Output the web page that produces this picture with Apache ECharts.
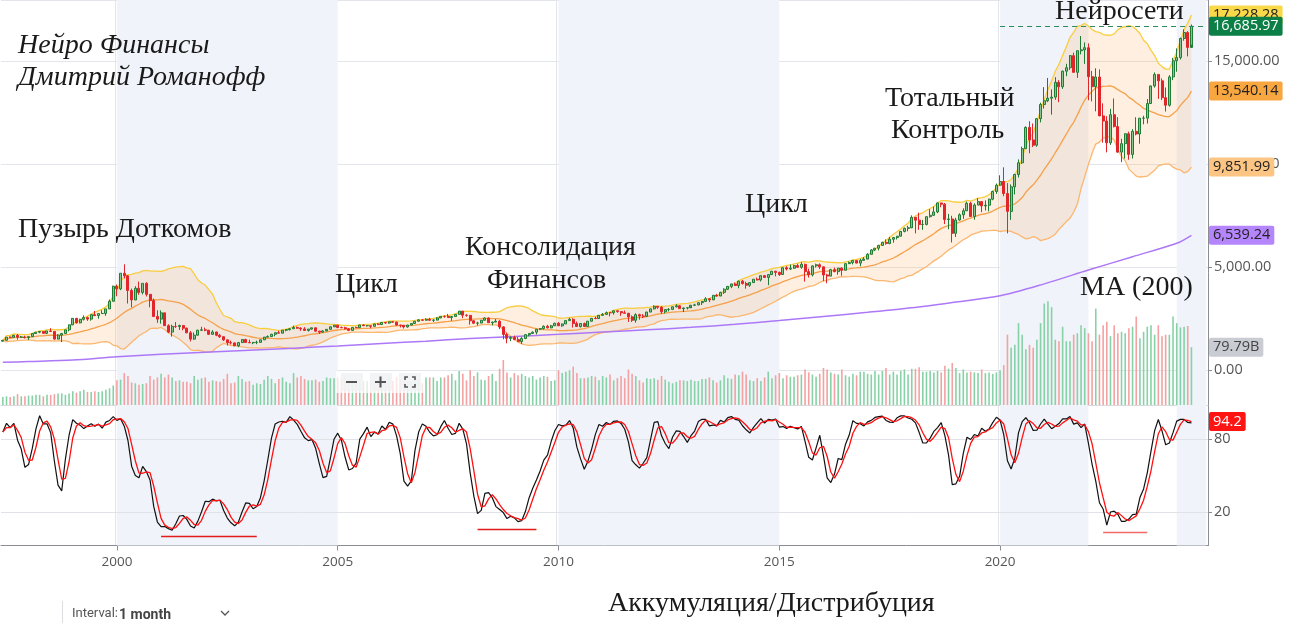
<!DOCTYPE html>
<html>
<head>
<meta charset="utf-8">
<script src="https://cdn.jsdelivr.net/npm/echarts@6/dist/echarts.min.js"></script>
<style>
html,body{margin:0;padding:0;background:#fff;}
#c{width:1289px;height:630px;}
</style>
</head>
<body>
<div id="c"></div>
<script>
// ---------- DATA (Nasdaq Composite, monthly, Jun 1997 – May 2024) ----------
const firstOpen = 1400.32; // close of May 1997
const close = [
1442,1594,1587,1686,1594,1601,1570,
1619,1771,1835,1868,1779,1895,1872,1499,1694,1771,1950,2193,
2506,2288,2461,2543,2471,2686,2638,2739,2746,2966,3336,4069,
3940,4697,4573,3861,3401,3966,3767,4206,3673,3370,2598,2471,
2773,2152,1840,2116,2110,2161,2027,1805,1499,1690,1931,1950,
1934,1731,1845,1688,1616,1463,1328,1315,1172,1330,1479,1336,
1321,1338,1341,1464,1596,1623,1735,1810,1787,1932,1960,2003,
2066,2030,1994,1920,1987,2048,1887,1838,1897,1975,2096,2175,
2062,2052,1999,1922,2068,2057,2185,2152,2152,2120,2233,2205,
2306,2281,2340,2323,2179,2172,2091,2184,2258,2367,2432,2415,
2464,2416,2422,2525,2605,2603,2546,2596,2702,2859,2661,2652,
2390,2271,2279,2413,2523,2293,2326,2368,2092,1721,1536,1577,
1476,1378,1529,1717,1774,1835,1979,2009,2122,2045,2145,2269,
2147,2238,2398,2461,2257,2109,2255,2114,2369,2507,2498,2653,
2700,2782,2781,2874,2835,2774,2756,2579,2415,2684,2620,2605,
2814,2967,3092,3046,2827,2935,2940,3067,3116,2977,3010,3020,
3142,3160,3268,3329,3456,3403,3626,3590,3771,3920,4060,4177,
4104,4308,4199,4115,4243,4408,4370,4580,4493,4631,4792,4736,
4635,4964,4901,4941,5070,4987,5128,4777,4620,5054,5109,5007,
4614,4558,4870,4775,4948,4843,5162,5213,5312,5189,5324,5383,
5615,5825,5912,6048,6199,6140,6348,6429,6496,6728,6874,6903,
7411,7273,7063,7066,7442,7510,7672,8110,8046,7306,7331,6635,
7282,7533,7729,8095,7453,8006,8175,7963,7999,8292,8665,8973,
9151,8567,7700,8890,9490,10059,10745,11775,11168,10912,12199,12888,
13070,13192,13247,13962,13749,14504,14673,15259,14449,15498,15538,15645,
14240,13751,14221,12335,12081,11029,12391,11816,10576,10988.15,11468.00,10466.48,
11584.55,11455.54,12221.91,12226.58,12935.29,13787.92,14346.02,14034.97,13219.32,12851.24,14226.22,15011.35,
15164.01,16091.92,16379.46,15657.82,16685.97
];
const high = [
1452,1594,1632,1697,1745,1655,1663,
1620,1772,1836,1880,1880,1895,2028,1880,1740,1772,1950,2200,
2506,2527,2488,2652,2590,2686,2864,2741,2905,2967,3421,4090,
4150,4697,5132,4600,3955,4067,4290,4206,4260,3675,3466,2900,
2892,2766,2220,2200,2328,2200,2165,2063,1890,1818,1950,2098,
2059,1924,1930,1858,1752,1634,1465,1427,1335,1362,1494,1521,
1467,1358,1425,1472,1599,1681,1754,1812,1908,1941,1987,2009,
2153,2110,2073,2079,1990,2050,2059,1897,1928,1990,2108,2185,
2191,2107,2100,2024,2080,2105,2194,2220,2168,2160,2245,2278,
2333,2300,2345,2375,2350,2191,2176,2189,2262,2378,2468,2470,
2509,2532,2460,2558,2620,2641,2724,2600,2716,2861,2848,2708,
2662,2420,2341,2431,2552,2550,2344,2473,2417,2118,1809,1632,
1667,1602,1598,1738,1774,1877,1987,2037,2167,2190,2191,2295,
2326,2243,2404,2535,2514,2354,2285,2303,2382,2521,2592,2671,
2766,2840,2797,2887,2888,2835,2888,2767,2648,2752,2732,2713,
2818,2978,3134,3106,3095,2935,3004,3077,3196,3139,3034,3044,
3158,3214,3269,3343,3533,3482,3627,3694,3795,3968,4070,4177,
4247,4343,4371,4285,4247,4409,4485,4580,4610,4641,4810,4814,
4778,4969,5042,5120,5112,5164,5232,5163,4918,5085,5164,5176,
4993,4664,4911,4969,4951,4980,5176,5271,5342,5343,5398,5487,
5669,5866,5928,6075,6221,6342,6460,6447,6497,6749,6914,7003,
7506,7387,7637,7285,7445,7806,7933,8133,8110,8107,7578,7487,
7390,7603,7850,8176,8165,8091,8340,8176,8234,8313,8706,9052,
9451,9838,9070,9007,9523,10221,10839,11829,12074,11965,12229,12973,
13729,14175,13620,14211,14072,14535,14863,15288,15403,15509,16212,15901,
15853,14520,14646,14588,12943,12320,12681,13181,12270,11224,11480,11571,
11691,12270,12230,12342,13154,13803,14446,14338,14152,13714,14310,15150,
15611,16134,16539,16449,16771
];
const low = [
1382,1440,1557,1585,1470,1551,1530,
1465,1619,1765,1786,1766,1741,1850,1470,1491,1357,1770,1874,
2180,2253,2262,2400,2387,2390,2630,2490,2725,2630,2965,3330,
3580,3875,4440,3227,3043,3390,3650,3670,3570,3040,2596,2288,
2251,2143,1794,1619,2042,1946,1927,1791,1387,1465,1677,1891,
1879,1697,1722,1642,1556,1413,1192,1241,1166,1108,1319,1330,
1311,1252,1253,1345,1455,1590,1611,1637,1784,1790,1874,1918,
1995,2004,1897,1914,1865,1955,1857,1750,1825,1881,1970,2090,
2030,2030,1969,1890,1923,2036,2056,2127,2104,2025,2115,2205,
2190,2242,2254,2300,2152,2065,2012,2054,2167,2239,2355,2396,
2395,2385,2331,2412,2522,2534,2539,2386,2577,2697,2516,2583,
2202,2244,2155,2274,2410,2287,2167,2318,1983,1493,1295,1400,
1445,1372,1265,1498,1637,1775,1727,1937,1963,2024,2024,2145,
2134,2100,2238,2390,2061,2106,2061,2098,2110,2353,2467,2501,
2650,2689,2603,2689,2779,2629,2746,2332,2335,2298,2441,2518,
2626,2806,2941,2969,2726,2747,2845,2941,3041,2964,2810,2938,
3086,3127,3143,3154,3310,3294,3406,3557,3594,3691,3889,3972,
4087,3968,4147,3946,4035,4232,4352,4298,4483,4117,4617,4547,
4563,4616,4831,4849,4911,4963,4910,4292,4487,4542,4979,4899,
4313,4210,4552,4747,4624,4575,4835,5142,5125,5178,5034,5334,
5397,5604,5769,5805,6034,6081,6104,6178,6336,6502,6681,6732,
6924,6631,6805,6806,7019,7397,7491,7614,7900,7084,6830,6190,
6457,7246,7338,7717,7418,7292,8005,7662,7743,7700,8240,8551,
8943,8436,6631,7287,8521,9345,10005,10733,10520,10822,10836,12020,
12690,13003,12397,13117,13002,13646,14262,14567,14430,14181,15322,14861,
13094,13037,12555,12332,11035,10565,10925,11772,10541,10089,10263,10207,
10265,11390,10982,11925,11963,12961,13707,13161,13101,12544,12785,14070,
14478,15071,15983,15223,15790
];
// monthly volume, billions
const volume = [
11,12,11,12,15,12,12,
13,13,14,14,12,14,14,15,16,16,14,16,
19,17,19,21,18,18,19,18,19,21,23,27,
34,35,44,40,31,30,28,29,30,40,35,38,
43,38,42,38,33,34,32,32,30,40,35,37,
38,32,34,33,32,36,43,30,31,40,36,32,
33,28,30,29,35,40,36,30,36,38,32,30,
44,38,40,36,34,34,35,32,33,38,37,37,
38,36,39,36,37,36,34,33,33,34,33,31,
38,33,39,33,39,36,33,32,33,34,35,30,
38,38,38,33,38,38,41,43,34,47,43,34,
48,40,45,35,34,40,43,33,50,62,45,38,
44,41,43,40,38,40,35,38,40,39,33,34,
48,44,46,48,53,44,37,37,38,40,39,34,
40,38,42,34,37,40,37,49,43,40,34,31,
37,36,37,35,40,35,32,30,32,34,34,33,
35,33,33,36,36,38,34,31,34,41,37,36,
42,41,46,42,34,33,37,33,38,46,37,41,
44,37,41,39,39,41,42,49,45,42,39,43,
51,49,45,43,42,49,41,39,43,41,46,46,
43,42,47,42,47,51,42,46,42,47,49,42,
50,50,52,46,46,47,45,47,45,54,50,58,
51,44,49,45,46,45,44,49,44,45,43,45,
48,55,97,79,83,113,97,77,83,79,90,113,
140,143,135,90,88,108,88,88,97,99,110,106,
99,88,133,97,110,115,95,110,99,101,99,106,
108,122,92,101,108,110,97,110,95,97,97,122,
113,107,108,109,79.79
];
// 200-month moving average
const maMonths = ['1997-06','1998-01','1999-01','2000-01','2001-01','2002-01','2003-01','2004-01','2005-01','2006-01','2007-01','2008-01','2009-01','2010-01','2011-01','2012-01','2013-01','2014-01','2015-01','2016-01','2017-01','2018-01','2019-01','2020-01','2021-01','2022-01','2023-01','2024-01','2024-05'];
const maValues = [375,410,480,640,760,860,960,1060,1170,1290,1400,1530,1630,1730,1840,1950,2070,2220,2400,2600,2800,3020,3300,3600,4180,4850,5500,6150,6539.24];
const priceTicks = [0,5000,10000,15000];
const stochTicks = [20,80];
const shadedRanges = [['2000-01','2005-01'],['2010-01','2015-01'],['2020-01','2022-01'],['2024-01','2024-09']];
const stochLowMarks = [[['2001-01',0],['2003-03',0]],[['2008-03',6.5],['2009-07',6.5]],[['2022-05',4],['2023-05',4]]];

// ---------- categories ----------
const categories = [];
for (let y = 1997, m = 6; categories.length < 328;) {
  categories.push(y + '-' + String(m).padStart(2, '0'));
  m++; if (m > 12) { m = 1; y++; }
}
const n = close.length;
const open = close.map((c, i) => i === 0 ? firstOpen : close[i - 1]);
const up = close.map((c, i) => c >= open[i]);

// ---------- indicators computed from the data ----------
const bbMid = [], bbUp = [], bbLo = [];
for (let i = 0; i < n; i++) {
  const s = Math.max(0, i - 19); let sum = 0, cnt = 0;
  for (let j = s; j <= i; j++) { sum += close[j]; cnt++; }
  const mean = sum / cnt; let v = 0;
  for (let j = s; j <= i; j++) v += (close[j] - mean) ** 2;
  const sd = Math.sqrt(v / cnt);
  bbMid.push(mean); bbUp.push(mean + 2 * sd); bbLo.push(mean - 2 * sd);
}
function sma(a, p) {
  return a.map((v, i) => { let s = 0, c = 0; for (let j = Math.max(0, i - p + 1); j <= i; j++) { s += a[j]; c++; } return s / c; });
}
const fastK = close.map((c, i) => {
  let hh = -Infinity, ll = Infinity;
  for (let j = Math.max(0, i - 13); j <= i; j++) { hh = Math.max(hh, high[j]); ll = Math.min(ll, low[j]); }
  return hh === ll ? 50 : 100 * (c - ll) / (hh - ll);
});
const stK = sma(fastK, 3);
const stD = sma(stK, 3);

const fmt2 = v => v.toLocaleString('en-US', { minimumFractionDigits: 2, maximumFractionDigits: 2 });
const lastCat = categories[categories.length - 1];
const isMajor = (idx, val) => val.endsWith('-01') && (+val.slice(0, 4)) % 5 === 0;
const tagFont = { fontFamily: 'Open Sans', fontSize: 14.5 };
const hidden = { color: 'rgba(0,0,0,0)', width: 0, opacity: 1 };

function tagItem(val, text, bg, fg) {
  return { yAxis: val, lineStyle: hidden,
    label: Object.assign({ show: true, position: 'end', distance: 1, formatter: text,
      backgroundColor: bg, color: fg, padding: [3, 4, 1, 4], borderRadius: 2 }, tagFont) };
}
function valueTag(val, text, bg, fg, z) {
  return { silent: true, symbol: ['none', 'none'], z: z || 5, data: [tagItem(val, text, bg, fg)] };
}

const chart = echarts.init(document.getElementById('c'), null, { renderer: 'canvas' });
const serif = '"Liberation Serif", "DejaVu Serif", serif';
const txt = (t, x, y, italic) => ({
  type: 'text', x: x, y: y, z: 50,
  style: { text: t, font: (italic ? 'italic ' : '') + '28px ' + serif, fill: '#1a1a1a', verticalAlign: 'middle' }
});

const xBase = { type: 'category', data: categories, boundaryGap: true, axisLabel: { show: false }, axisTick: { show: false }, axisLine: { show: false }, splitLine: { show: false } };

const option = {
  animation: false,
  backgroundColor: '#ffffff',
  grid: [
    { left: 1, right: 81, top: 0, height: 545.5 },
    { left: 1, right: 81, top: 0, height: 370 },
    { left: 1, right: 81, top: 289, height: 116 },
    { left: 1, right: 81, top: 406, height: 139.5 }
  ],
  xAxis: [
    Object.assign({}, xBase, {
      gridIndex: 0,
      axisLine: { show: true, lineStyle: { color: '#8a8d94', width: 1 } },
      axisTick: { show: true, interval: isMajor, alignWithLabel: true, length: 5, lineStyle: { color: '#8a8d94' } },
      axisLabel: { show: true, interval: isMajor, formatter: v => v.slice(0, 4), color: '#555', fontFamily: 'Open Sans', fontSize: 13.5, margin: 10 },
      splitLine: { show: true, interval: isMajor, lineStyle: { color: '#e3e5ea', width: 1 } }
    }),
    Object.assign({}, xBase, { gridIndex: 1 }),
    Object.assign({}, xBase, { gridIndex: 2, axisLine: { show: true, lineStyle: { color: '#d6d8dd' } } }),
    Object.assign({}, xBase, { gridIndex: 3 })
  ],
  yAxis: [
    { type: 'value', gridIndex: 0, position: 'right', min: 0, max: 1, axisLine: { show: true, lineStyle: { color: '#8a8d94' } }, axisLabel: { show: false }, axisTick: { show: false }, splitLine: { show: false } },
    { type: 'value', gridIndex: 1, position: 'right', min: 0, max: 17960, interval: 5000,
      axisLine: { show: false },
      axisTick: { show: true, length: 4, lineStyle: { color: '#8a8d94' } },
      axisLabel: { show: true, showMaxLabel: false, formatter: v => priceTicks.includes(v) ? fmt2(v) : '', color: '#555', fontFamily: 'Open Sans', fontSize: 14.5, margin: 6 },
      splitLine: { show: true, lineStyle: { color: '#e3e5ea' } } },
    { type: 'value', gridIndex: 2, min: 0, max: 160, show: false },
    { type: 'value', gridIndex: 3, position: 'right', min: -7.2, max: 107,
      axisLine: { show: false },
      axisTick: { show: true, length: 4, customValues: stochTicks, lineStyle: { color: '#8a8d94' } },
      axisLabel: { show: true, customValues: stochTicks, color: '#555', fontFamily: 'Open Sans', fontSize: 14.5, margin: 6 },
      splitLine: { show: false } }
  ],
  series: [
    { name: 'bg', type: 'line', xAxisIndex: 0, yAxisIndex: 0, data: [null], z: 0, silent: true,
      markArea: { silent: true, itemStyle: { color: '#f0f3f9' }, data: shadedRanges.map(r => [{ xAxis: r[0] }, { xAxis: r[1] }]) } },
    { name: 'bbBase', type: 'line', xAxisIndex: 1, yAxisIndex: 1, data: bbLo, stack: 'bb', symbol: 'none', silent: true, lineStyle: { opacity: 0 }, z: 1 },
    { name: 'bbFill', type: 'line', xAxisIndex: 1, yAxisIndex: 1, data: bbUp.map((u, i) => u - bbLo[i]), stack: 'bb', symbol: 'none', silent: true, lineStyle: { opacity: 0 }, areaStyle: { color: 'rgba(250,168,88,0.27)' }, z: 1 },
    { name: 'bbUpper', type: 'line', xAxisIndex: 1, yAxisIndex: 1, data: bbUp, symbol: 'none', silent: true, lineStyle: { color: '#f8cd3e', width: 1.3 }, z: 2,
      markLine: valueTag(bbUp[n - 1], fmt2(bbUp[n - 1]), '#f9d94a', '#222', 5) },
    { name: 'bbMid', type: 'line', xAxisIndex: 1, yAxisIndex: 1, data: bbMid, symbol: 'none', silent: true, lineStyle: { color: '#f5a04a', width: 1.3 }, z: 2,
      markLine: valueTag(bbMid[n - 1], fmt2(bbMid[n - 1]), '#f8a640', '#222', 5) },
    { name: 'bbLower', type: 'line', xAxisIndex: 1, yAxisIndex: 1, data: bbLo, symbol: 'none', silent: true, lineStyle: { color: '#fbb66f', width: 1.3 }, z: 2,
      markLine: valueTag(bbLo[n - 1], fmt2(bbLo[n - 1]), '#fcc584', '#222', 5) },
    { name: 'ma200', type: 'line', xAxisIndex: 1, yAxisIndex: 1, data: maMonths.map((m, i) => [m, maValues[i]]), symbol: 'none', smooth: 0.3, silent: true, lineStyle: { color: '#ad78f8', width: 1.5 }, z: 2,
      markLine: valueTag(maValues[maValues.length - 1], fmt2(maValues[maValues.length - 1]), '#b485fb', '#222', 5) },
    { name: 'price', type: 'candlestick', xAxisIndex: 1, yAxisIndex: 1, barWidth: '68%', z: 3,
      data: close.map((c, i) => [open[i], c, low[i], high[i]]),
      itemStyle: { color: '#86c68c', color0: '#e2252b', borderColor: '#1f7c36', borderColor0: '#e2252b', borderWidth: 1 },
      markLine: {
        silent: true, symbol: ['none', 'none'], z: 7,
        data: [
          [{ coord: ['2020-01', close[n - 1]], lineStyle: { color: '#2a8a5a', type: [5, 4], width: 1 }, label: { show: false } },
           { coord: [lastCat, close[n - 1]] }],
          tagItem(close[n - 1], fmt2(close[n - 1]), '#0c7f47', '#fff')
        ]
      } },
    { name: 'volume', type: 'bar', xAxisIndex: 2, yAxisIndex: 2, barWidth: 1.6, z: 2, silent: true,
      data: volume.map((v, i) => ({ value: v, itemStyle: { color: up[i] ? '#86d2a6' : '#f4a1a1' } })),
      markLine: valueTag(volume[n - 1], volume[n - 1].toFixed(2) + 'B', '#c9ccd3', '#444', 5) },
    { name: 'stochK', type: 'line', xAxisIndex: 3, yAxisIndex: 3, data: stK, symbol: 'none', silent: true, lineStyle: { color: '#111', width: 1.2 }, z: 3,
      markLine: { silent: true, symbol: ['none', 'none'], label: { show: false }, lineStyle: { color: '#e0e2e7', type: 'solid', width: 1 }, data: stochTicks.map(t => ({ yAxis: t })), z: 1 } },
    { name: 'stochD', type: 'line', xAxisIndex: 3, yAxisIndex: 3, data: stD, symbol: 'none', silent: true, lineStyle: { color: '#ff1010', width: 1.3 }, z: 4,
      markLine: {
        silent: true, symbol: ['none', 'none'], z: 6,
        data: stochLowMarks.map((s, k) => [
          { coord: s[0], lineStyle: { color: k === 2 ? '#f46a6a' : '#e31b1b', width: 1.4, type: 'solid' }, label: { show: false } },
          { coord: s[1] }
        ]).concat([tagItem(stD[n - 1], stD[n - 1].toFixed(1), '#ff1414', '#fff')])
      } }
  ],
  graphic: [
    txt('Нейро Финансы', 18, 46, true),
    txt('Дмитрий Романофф', 18, 78, true),
    txt('Нейросети', 1055, 12, false),
    txt('Тотальный', 885, 99, false),
    txt('Контроль', 891, 131, false),
    txt('Цикл', 745, 205, false),
    txt('Пузырь Доткомов', 18, 230, false),
    txt('Консолидация', 465, 248, false),
    txt('Финансов', 487, 281, false),
    txt('Цикл', 335, 285, false),
    txt('MA (200)', 1080, 288, false),
    txt('Аккумуляция/Дистрибуция', 608, 604, false),
    // zoom control overlay
    { type: 'rect', shape: { x: 336, y: 371, width: 88, height: 22 }, style: { fill: 'rgba(255,255,255,0.72)' }, z: 40 },
    { type: 'rect', shape: { x: 341, y: 373, width: 22, height: 18 }, style: { fill: 'rgba(240,241,244,0.8)' }, z: 40 },
    { type: 'rect', shape: { x: 370, y: 373, width: 22, height: 18 }, style: { fill: 'rgba(240,241,244,0.8)' }, z: 40 },
    { type: 'rect', shape: { x: 399, y: 373, width: 22, height: 18 }, style: { fill: 'rgba(240,241,244,0.8)' }, z: 40 },
    { type: 'line', shape: { x1: 346, y1: 382, x2: 357, y2: 382 }, style: { stroke: '#555', lineWidth: 2 }, z: 41 },
    { type: 'line', shape: { x1: 375, y1: 382, x2: 386, y2: 382 }, style: { stroke: '#555', lineWidth: 2 }, z: 41 },
    { type: 'line', shape: { x1: 380.5, y1: 376.5, x2: 380.5, y2: 387.5 }, style: { stroke: '#555', lineWidth: 2 }, z: 41 },
    { type: 'polyline', shape: { points: [[405, 380], [405, 377], [408, 377]] }, style: { stroke: '#555', lineWidth: 1.6, fill: null }, z: 41 },
    { type: 'polyline', shape: { points: [[412, 377], [415, 377], [415, 380]] }, style: { stroke: '#555', lineWidth: 1.6, fill: null }, z: 41 },
    { type: 'polyline', shape: { points: [[405, 384], [405, 387], [408, 387]] }, style: { stroke: '#555', lineWidth: 1.6, fill: null }, z: 41 },
    { type: 'polyline', shape: { points: [[412, 387], [415, 387], [415, 384]] }, style: { stroke: '#555', lineWidth: 1.6, fill: null }, z: 41 },
    // interval footer
    { type: 'line', shape: { x1: 62.5, y1: 601, x2: 62.5, y2: 623 }, style: { stroke: '#dcdde1', lineWidth: 1 }, z: 40 },
    { type: 'text', x: 72, y: 614, z: 40, style: { text: 'Interval:', font: '13px "Roboto"', fill: '#555', verticalAlign: 'middle' } },
    { type: 'text', x: 119, y: 615, z: 40, style: { text: '1 month', font: 'bold 14px "Roboto"', fill: '#444', verticalAlign: 'middle' } },
    { type: 'polyline', shape: { points: [[221, 611], [225, 615], [229, 611]] }, style: { stroke: '#555', lineWidth: 1.3, fill: null }, z: 40 }
  ]
};
chart.setOption(option);
</script>
</body>
</html>
